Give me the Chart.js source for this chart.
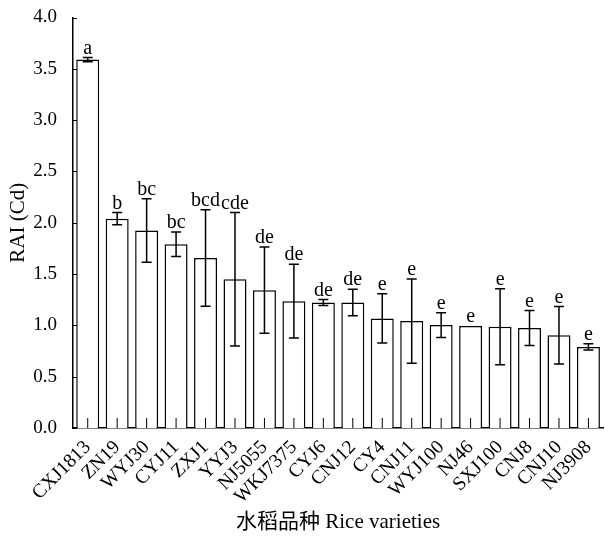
<!DOCTYPE html>
<html>
<head>
<meta charset="utf-8">
<script src="https://cdn.jsdelivr.net/npm/chart.js@4"></script>
<style>
  body { margin: 0; background: #fff; }
  #wrap { width: 605px; height: 537px; position: relative; }
</style>
</head>
<body>
<div id="wrap"><canvas id="chart-rai"></canvas></div>
<script>
// varieties, mean RAI and error bars
const varieties = ['CXJ1813', 'ZN19', 'WYJ30', 'CYJ11', 'ZXJ1', 'YYJ3', 'NJ5055', 'WKJ7375', 'CYJ6',
                   'CNJ12', 'CY4', 'CNJ11', 'WYJ100', 'NJ46', 'SXJ100', 'CNJ8', 'CNJ10', 'NJ3908'];
const raiMeans = [3.59, 2.04, 1.925, 1.79, 1.657, 1.45, 1.343, 1.236, 1.223,
                  1.223, 1.068, 1.042, 1.003, 0.993, 0.987, 0.974, 0.903, 0.79];
const raiErrors = [0.02, 0.06, 0.31, 0.12, 0.47, 0.65, 0.42, 0.36, 0.03,
                   0.13, 0.24, 0.41, 0.12, 0, 0.37, 0.17, 0.28, 0.03];
const sigLetters = ['a', 'b', 'bc', 'bc', 'bcd', 'cde', 'de', 'de', 'de',
                    'de', 'e', 'e', 'e', 'e', 'e', 'e', 'e', 'e'];

const serif = '"Liberation Serif", "Times New Roman", "Noto Sans CJK SC", serif';

// error bars, letters and inward ticks
const extras = {
    id: 'extras',
    afterDatasetsDraw(chart) {
        const ctx = chart.ctx;
        const x = chart.scales.x, y = chart.scales.y;
        const bars = chart.getDatasetMeta(0).data;
        ctx.save();
        ctx.strokeStyle = '#000';
        ctx.fillStyle = '#000';
        ctx.lineWidth = 1.5;
        bars.forEach((bar, i) => {
            const top = y.getPixelForValue(raiMeans[i] + raiErrors[i]);
            const bot = y.getPixelForValue(raiMeans[i] - raiErrors[i]);
            if (raiErrors[i] > 0) {
                ctx.beginPath();
                ctx.moveTo(bar.x, top); ctx.lineTo(bar.x, bot);
                ctx.moveTo(bar.x - 5, top); ctx.lineTo(bar.x + 5, top);
                ctx.moveTo(bar.x - 5, bot); ctx.lineTo(bar.x + 5, bot);
                ctx.stroke();
            }
            ctx.font = '20px ' + serif;
            ctx.textAlign = 'center';
            ctx.textBaseline = 'bottom';
            ctx.fillText(sigLetters[i], bar.x, top + 1);
        });
        // ticks pointing into the plot
        ctx.lineWidth = 1;
        ctx.beginPath();
        bars.forEach(bar => {
            ctx.moveTo(bar.x, x.top); ctx.lineTo(bar.x, x.top - 10);
        });
        y.ticks.forEach((t, i) => {
            const py = Math.round(y.getPixelForTick(i)) + 0.5;
            ctx.moveTo(y.right, py); ctx.lineTo(y.right + 4, py);
        });
        ctx.stroke();
        ctx.restore();
    }
};

new Chart(document.getElementById('chart-rai'), {
    type: 'bar',
    data: {
        labels: varieties,
        datasets: [{
            data: raiMeans,
            backgroundColor: '#fff',
            borderColor: '#000',
            borderWidth: 1.5,
            categoryPercentage: 1,
            barPercentage: 0.78
        }]
    },
    options: {
        responsive: true,
        maintainAspectRatio: false,
        animation: false,
        layout: { padding: { top: 8, right: 1, left: 0, bottom: 0 } },
        plugins: { legend: { display: false }, tooltip: { enabled: false } },
        scales: {
            x: {
                grid: { display: false },
                border: { display: true, color: '#000', width: 1.5 },
                ticks: {
                    color: '#000', font: { family: serif, size: 19.5 },
                    maxRotation: 45, minRotation: 45, autoSkip: false, padding: 0
                },
                title: {
                    display: true, text: '水稻品种 Rice varieties', color: '#000',
                    font: { family: serif, size: 21 }, padding: { top: 6, bottom: 2 }
                },
                afterFit(scale) { scale.height = 109; }
            },
            y: {
                min: 0, max: 4,
                grid: { display: false },
                border: { display: true, color: '#000', width: 1.5 },
                ticks: {
                    stepSize: 0.5, color: '#000', font: { family: serif, size: 19, lineHeight: 1 },
                    padding: 8, callback: v => v.toFixed(1)
                },
                title: {
                    display: true, text: 'RAI (Cd)', color: '#000',
                    font: { family: serif, size: 21 }, padding: { top: 6, bottom: 4 }
                },
                afterFit(scale) { scale.width = 73; }
            }
        }
    },
    plugins: [extras]
});
</script>
</body>
</html>
